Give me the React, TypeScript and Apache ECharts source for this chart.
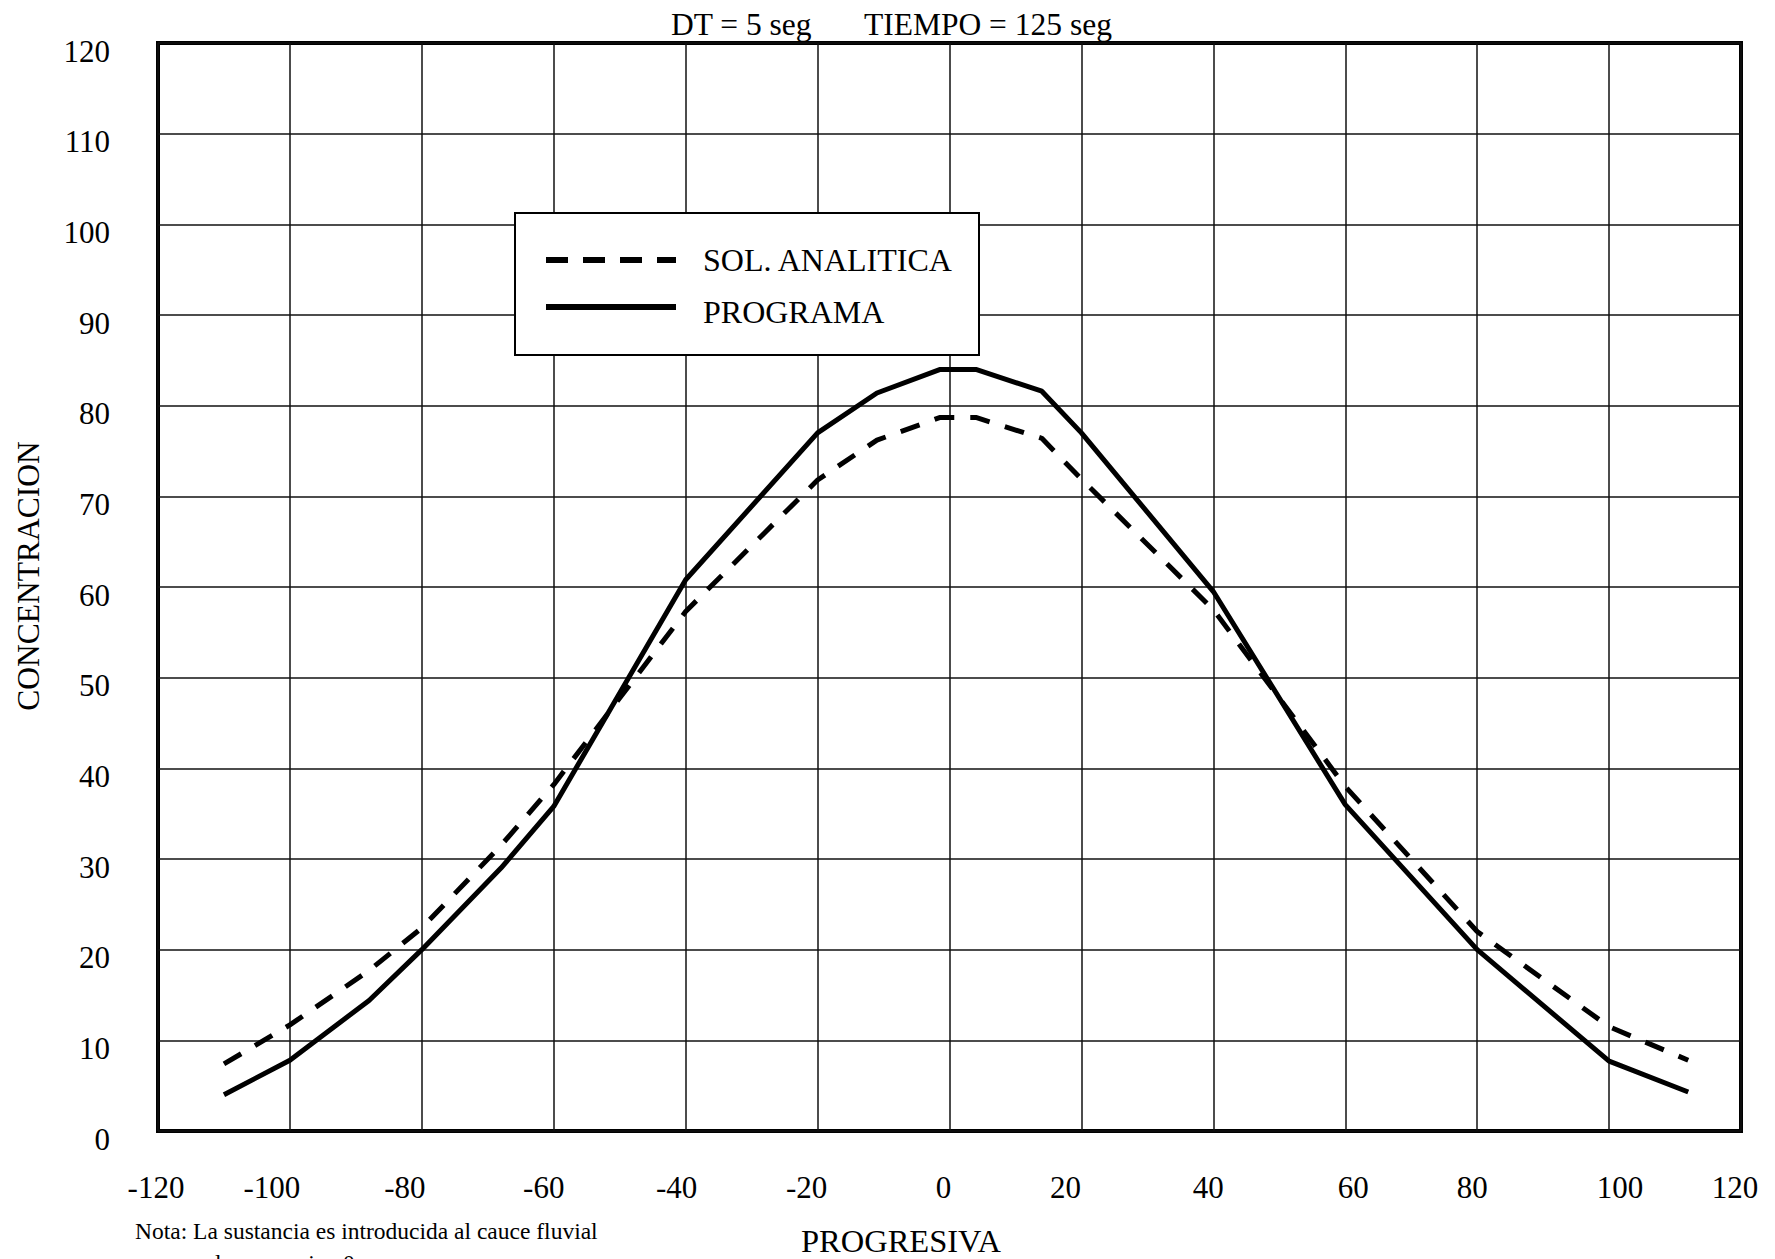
import React, { useEffect, useRef } from "react";
import * as echarts from "echarts";

const progresiva = [-110, -100, -88, -80, -68, -60, -40, -20, -11, -1.4, 4, 14, 20, 40, 60, 80, 100, 112];
const programa = [4, 7.8, 14.4, 20, 29, 35.8, 60.8, 77, 81.4, 84, 84, 81.6, 77, 59.5, 36, 20, 7.7, 4.3];
const solAnalitica = [7.4, 11.7, 17.7, 22.4, 31.5, 38.2, 57.3, 71.8, 76.2, 78.7, 78.7, 76.4, 71.9, 57.5, 38, 22, 11.5, 7.8];

const xTicks = [-120, -100, -80, -60, -40, -20, 0, 20, 40, 60, 80, 100, 120];

const titleLeft = "DT = 5 seg";
const titleRight = "TIEMPO = 125 seg";
const xName = "PROGRESIVA";
const yName = "CONCENTRACION";
const noteLines = ["Nota: La sustancia es introducida al cauce fluvial", "en la progresiva 0"];
const legendNames = ["SOL. ANALITICA", "PROGRAMA"];

const FONT = "'Liberation Serif', 'Times New Roman', serif";

// horizontal nudges (px) of the x tick labels, as printed in the original
const xLabelNudge = [-2, -18, -17, -10, -9, -11, -6, -16, -5, 8, -5, 11, -6];

export default function App() {
  const ref = useRef<HTMLDivElement>(null);
  useEffect(() => {
    if (!ref.current) return;
    const chart = echarts.init(ref.current, null, { renderer: "svg" });
    const pairs = (ys: number[]) => progresiva.map((x, i) => [x, ys[i]]);
    const rich: Record<string, any> = {};
    xTicks.forEach((_, i) => {
      const d = xLabelNudge[i];
      rich["t" + i] = {
        fontFamily: FONT,
        fontSize: 31,
        color: "#000",
        padding: d < 0 ? [0, -2 * d, 0, 0] : [0, 0, 0, 2 * d],
      };
    });
    chart.setOption({
      animation: false,
      backgroundColor: "#fff",
      textStyle: { fontFamily: FONT, color: "#000" },
      grid: {
        left: 158,
        right: 34,
        top: 43,
        bottom: 128,
        show: true,
        borderColor: "#000",
        borderWidth: 4,
        backgroundColor: "transparent",
        containLabel: false,
      },
      xAxis: {
        type: "value",
        min: -120,
        max: 120,
        interval: 20,
        axisLine: { show: false },
        axisTick: { show: false },
        splitLine: { show: true, lineStyle: { color: "#111", width: 1.5 } },
        axisLabel: {
          color: "#000",
          fontFamily: FONT,
          fontSize: 31,
          margin: 41,
          showMinLabel: true,
          showMaxLabel: true,
          formatter: (v: number) => {
            const i = xTicks.indexOf(Math.round(v));
            return i >= 0 ? `{t${i}|${v}}` : String(v);
          },
          rich,
        },
      },
      yAxis: {
        type: "value",
        min: 0,
        max: 120,
        interval: 10,
        axisLine: { show: false },
        axisTick: { show: false },
        splitLine: { show: true, lineStyle: { color: "#111", width: 1.5 } },
        axisLabel: {
          color: "#000",
          fontFamily: FONT,
          fontSize: 31,
          margin: 48,
          verticalAlign: "middle",
          showMinLabel: true,
          showMaxLabel: true,
          formatter: (v: number) => `{y|${v}}`,
          rich: {
            y: {
              fontFamily: FONT,
              fontSize: 31,
              color: "#000",
              padding: [16, 0, 0, 0],
            },
          },
        },
      },
      series: [
        {
          name: legendNames[0],
          type: "line",
          data: pairs(solAnalitica),
          symbol: "none",
          lineStyle: { color: "#000", width: 5, type: [20, 16], cap: "butt" },
          z: 3,
        },
        {
          name: legendNames[1],
          type: "line",
          data: pairs(programa),
          symbol: "none",
          lineStyle: { color: "#000", width: 5, type: "solid" },
          z: 4,
        },
      ],
      graphic: [
        {
          type: "text",
          x: 671,
          y: 24,
          style: { text: titleLeft, font: `31.5px ${FONT}`, fill: "#000", verticalAlign: "middle" },
        },
        {
          type: "text",
          x: 864,
          y: 24,
          style: { text: titleRight, font: `31.5px ${FONT}`, fill: "#000", verticalAlign: "middle" },
        },
        {
          type: "text",
          x: 28,
          y: 576,
          rotation: Math.PI / 2,
          style: {
            text: yName,
            font: `31.5px ${FONT}`,
            fill: "#000",
            align: "center",
            verticalAlign: "middle",
          },
        },
        {
          type: "text",
          x: 801,
          y: 1241,
          style: { text: xName, font: `32.5px ${FONT}`, fill: "#000", verticalAlign: "middle" },
        },
        {
          type: "text",
          x: 135,
          y: 1231,
          style: { text: noteLines[0], font: `23.5px ${FONT}`, fill: "#000", verticalAlign: "middle" },
        },
        {
          type: "text",
          x: 187,
          y: 1263,
          style: { text: noteLines[1], font: `23.5px ${FONT}`, fill: "#000", verticalAlign: "middle" },
        },
        {
          type: "group",
          z: 100,
          children: [
            {
              type: "rect",
              shape: { x: 515, y: 213, width: 464, height: 142 },
              style: { fill: "#fff", stroke: "#000", lineWidth: 2 },
              z: 100,
            },
            {
              type: "line",
              shape: { x1: 546, y1: 260, x2: 676, y2: 260 },
              style: { stroke: "#000", lineWidth: 6, lineDash: [22, 15] },
              z: 101,
            },
            {
              type: "line",
              shape: { x1: 546, y1: 307, x2: 676, y2: 307 },
              style: { stroke: "#000", lineWidth: 6 },
              z: 101,
            },
            {
              type: "text",
              x: 703,
              y: 260,
              style: { text: legendNames[0], font: `32px ${FONT}`, fill: "#000", verticalAlign: "middle" },
              z: 101,
            },
            {
              type: "text",
              x: 703,
              y: 312,
              style: { text: legendNames[1], font: `32px ${FONT}`, fill: "#000", verticalAlign: "middle" },
              z: 101,
            },
          ],
        },
      ],
    });
    return () => chart.dispose();
  }, []);
  return (
    <div
      ref={ref}
      style={{ position: "fixed", left: 0, top: 0, width: 1775, height: 1259, background: "#fff" }}
    />
  );
}
